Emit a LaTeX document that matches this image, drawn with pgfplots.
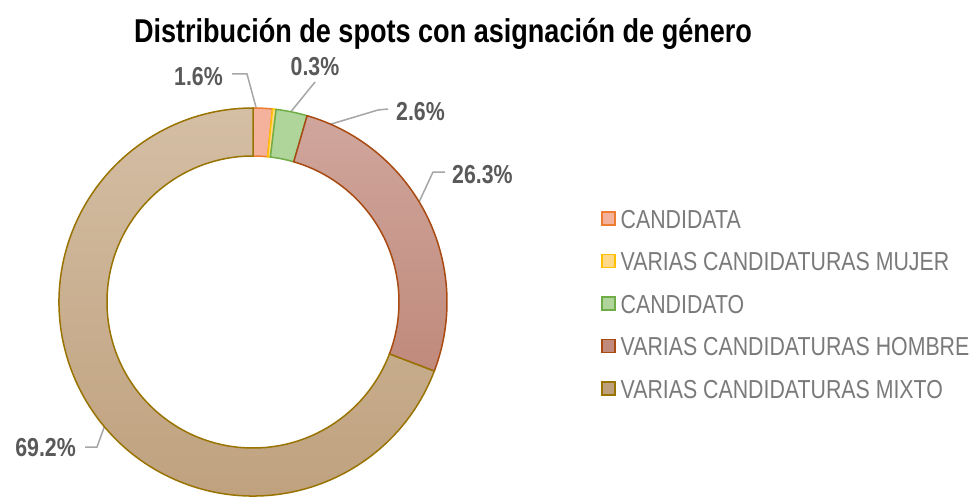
\documentclass[border=0pt]{standalone}
\usepackage{fontspec}
\setmainfont{Liberation Sans}[FakeStretch=0.82]
\usepackage{pgfplots}
\pgfplotsset{compat=1.18}
\definecolor{cdaF}{HTML}{F4B29C}\definecolor{cdaD}{HTML}{ED7D31}
\definecolor{mujF}{HTML}{FFD98A}\definecolor{mujD}{HTML}{FFC000}
\definecolor{cdoF}{HTML}{AFD59A}\definecolor{cdoD}{HTML}{70AD47}
\definecolor{homT}{HTML}{D0A69C}\definecolor{homB}{HTML}{C08A7C}\definecolor{homD}{HTML}{A84A12}
\definecolor{mixT}{HTML}{D4BEA4}\definecolor{mixB}{HTML}{BEA07C}\definecolor{mixD}{HTML}{997300}
\definecolor{lblgray}{HTML}{595959}
\definecolor{leggray}{HTML}{7A7A7A}
\definecolor{leadgray}{HTML}{A6A6A6}
\pgfdeclareplotmark{blank}{}
\pgfplotsset{
  donut/.style n args={3}{
    scatter, only marks, mark=blank, forget plot,
    point meta min=0, point meta max=1,
    visualization depends on={\thisrow{a}\as\sA},
    visualization depends on={\thisrow{v}\as\sV},
    scatter/@pre marker code/.code={%
      \pgfmathsetmacro\angA{90-3.6*\sA}%
      \pgfmathsetmacro\angB{90-3.6*(\sA+\sV)}%
      \path[top color=#1,bottom color=#2,draw=#3,line width=1.5pt,line join=miter]
        (\angA:194pt) arc[start angle=\angA,end angle=\angB,radius=194pt]
        -- (\angB:146pt) arc[start angle=\angB,end angle=\angA,radius=146pt] -- cycle;
    },
    scatter/@post marker code/.code={},
  },
  sq/.style 2 args={legend image code/.code={\draw[fill=#1,draw=#2,line width=1.5pt] (0pt,-6.5pt) rectangle (13pt,6.5pt);}},
}
\begin{document}
\begin{tikzpicture}
\begin{axis}[
  width=969pt, height=499pt, scale only axis,
  xmin=0, xmax=969, ymin=0, ymax=499,
  hide axis, clip=false,
  title={Distribución de spots con asignación de género},
  title style={at={(axis cs:443,469)}, anchor=center, font=\bfseries\fontsize{33}{38}\selectfont, text=black, yshift=-10pt},
  legend style={at={(axis cs:598,292)}, anchor=north west, draw=none, fill=none,
    font=\fontsize{26}{29}\selectfont, text=leggray, row sep=23.5pt,
    nodes={inner sep=0pt, text height=19pt, text depth=0pt},
    /tikz/every even column/.append style={column sep=0pt}},
  legend cell align=left,
]
\addplot[donut={cdaF}{cdaF}{cdaD}] table[row sep=\\] {x y a v\\ 253 197 0 1.6\\};
\addplot[donut={mujF}{mujF}{mujD}] table[row sep=\\] {x y a v\\ 253 197 1.6 0.3\\};
\addplot[donut={cdoF}{cdoF}{cdoD}] table[row sep=\\] {x y a v\\ 253 197 1.9 2.6\\};
\addplot[donut={homT}{homB}{homD}] table[row sep=\\] {x y a v\\ 253 197 4.5 26.3\\};
\addplot[donut={mixT}{mixB}{mixD}] table[row sep=\\] {x y a v\\ 253 197 30.8 69.2\\};

\addlegendimage{sq={cdaF}{cdaD}}\addlegendentry{\hspace{5pt}CANDIDATA}
\addlegendimage{sq={mujF}{mujD}}\addlegendentry{\hspace{5pt}VARIAS CANDIDATURAS MUJER}
\addlegendimage{sq={cdoF}{cdoD}}\addlegendentry{\hspace{5pt}CANDIDATO}
\addlegendimage{sq={homB}{homD}}\addlegendentry{\hspace{5pt}VARIAS CANDIDATURAS HOMBRE}
\addlegendimage{sq={mixB}{mixD}}\addlegendentry{\hspace{5pt}VARIAS CANDIDATURAS MIXTO}

\draw[leadgray, line width=1.5pt] (axis cs:232,425) -- (axis cs:247,425) -- (axis cs:263,366);
\draw[leadgray, line width=1.5pt] (axis cs:315,417) -- (axis cs:272,364);
\draw[leadgray, line width=1.5pt] (axis cs:388,390) -- (axis cs:378,389) -- (axis cs:288,362);
\draw[leadgray, line width=1.5pt] (axis cs:445,327) -- (axis cs:433,327) -- (axis cs:407,271);
\draw[leadgray, line width=1.5pt] (axis cs:85,52) -- (axis cs:97,52) -- (axis cs:113,96);

\begin{scope}[every node/.style={font=\bfseries\fontsize{26}{30}\selectfont, text=lblgray, inner sep=0pt}]
\node[anchor=east] at (axis cs:223,422) {1.6\%};
\node[anchor=center] at (axis cs:315,432) {0.3\%};
\node[anchor=west] at (axis cs:396,387) {2.6\%};
\node[anchor=west] at (axis cs:452,324) {26.3\%};
\node[anchor=east] at (axis cs:76,51) {69.2\%};
\end{scope}
\end{axis}
\pgfresetboundingbox
\path (current axis.south west) rectangle (current axis.north east);
\end{tikzpicture}
\end{document}
